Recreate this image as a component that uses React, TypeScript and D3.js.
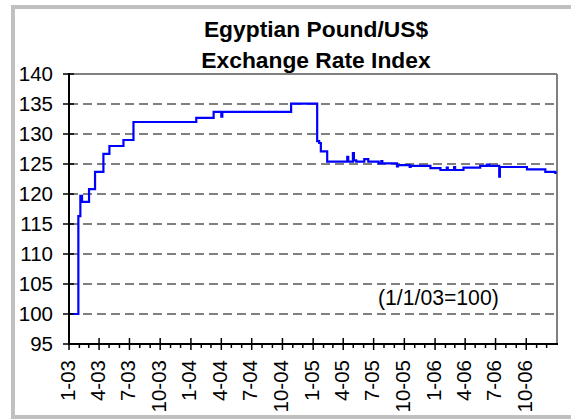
import React from "react";
import * as d3 from "d3";

const titleLines = ["Egyptian Pound/US$", "Exchange Rate Index"];
const note = "(1/1/03=100)";

const dates = [
  "2003-01-01", "2003-01-29", "2003-02-04", "2003-02-09", "2003-03-02", "2003-03-20",
  "2003-04-14", "2003-05-02", "2003-06-13", "2003-07-13", "2004-01-17", "2004-03-09",
  "2004-04-01", "2004-04-04", "2004-10-27", "2005-01-13", "2005-01-19", "2005-01-24",
  "2005-02-12", "2005-04-13", "2005-04-16", "2005-04-30", "2005-05-03", "2005-05-10",
  "2005-06-03", "2005-06-15", "2005-07-16", "2005-07-24", "2005-07-27", "2005-09-09",
  "2005-09-12", "2005-10-17", "2005-10-20", "2005-12-18", "2006-01-17", "2006-02-05",
  "2006-02-08", "2006-02-27", "2006-03-02", "2006-03-27", "2006-05-16", "2006-06-05",
  "2006-06-12", "2006-07-12", "2006-07-14", "2006-10-03", "2006-11-27", "2006-12-27",
  "2006-12-31",
];
const values = [
  100, 116.3, 119.7, 118.7, 120.8, 123.7,
  126.7, 128.0, 129.0, 132.0, 132.7, 133.7,
  132.9, 133.7, 135.05, 128.8, 128.5, 127.1,
  125.4, 126.2, 125.4, 126.8, 125.6, 125.4,
  125.8, 125.4, 125.1, 125.5, 125.1, 124.6,
  124.8, 124.5, 124.7, 124.3, 124.0, 124.4,
  124.0, 124.5, 124.0, 124.4, 124.7, 124.9,
  124.7, 122.9, 124.5, 124.1, 123.7, 123.5,
  123.5,
];

const yTicks = [95, 100, 105, 110, 115, 120, 125, 130, 135, 140];
const xDomain = ["2003-01-01", "2007-01-01"];

const W = 571;
const H = 420;
const left = 69;
const right = 557;
const top = 74;
const bottom = 344;
const FONT = "'Liberation Sans', Arial, Helvetica, sans-serif";

export default function App() {
  const parse = d3.utcParse("%Y-%m-%d");
  const x = d3
    .scaleUtc()
    .domain(xDomain.map((d) => parse(d) as Date))
    .range([left, right]);
  const y = d3.scaleLinear().domain([95, 140]).range([bottom, top]);

  const data = dates.map((d, i) => ({ date: parse(d) as Date, v: values[i] }));
  const line = d3
    .line<{ date: Date; v: number }>()
    .x((d) => x(d.date))
    .y((d) => y(d.v))
    .curve(d3.curveStepAfter);

  const months = d3.utcMonth.range(x.domain()[0], x.domain()[1]);
  const fmt = (d: Date) => `${d.getUTCMonth() + 1}-${d3.utcFormat("%y")(d)}`;

  return (
    <svg
      width={W}
      height={H}
      style={{ position: "absolute", left: 0, top: 0, display: "block", fontFamily: FONT }}
    >
      <rect x={0} y={0} width={W} height={H} fill="#fff" />
      <rect x={13} y={7} width={600} height={410} fill="#fff" stroke="#c0c0c0" strokeWidth={4} />

      {titleLines.map((t, i) => (
        <text
          key={t}
          x={(left + right) / 2 + 3}
          y={37 + i * 31}
          textAnchor="middle"
          fontSize={22.8}
          fontWeight="bold"
          fill="#000"
        >
          {t}
        </text>
      ))}

      {/* gridlines */}
      {yTicks
        .filter((t) => t > 95 && t < 140)
        .map((t) => (
          <line
            key={"g" + t}
            x1={left}
            x2={right}
            y1={y(t)}
            y2={y(t)}
            stroke="#808080"
            strokeWidth={2}
            strokeDasharray="9,5"
          />
        ))}

      {/* plot border top/right */}
      <line x1={left} x2={right} y1={top} y2={top} stroke="#808080" strokeWidth={2} />
      <line x1={right} x2={right} y1={top} y2={bottom} stroke="#808080" strokeWidth={2} />

      {/* data line */}
      <path d={line(data) || ""} fill="none" stroke="#0000ff" strokeWidth={2.2} />

      {/* axes */}
      <line x1={left} x2={left} y1={top - 1} y2={bottom + 1} stroke="#000" strokeWidth={2} />
      <line x1={left - 1} x2={right + 1} y1={bottom} y2={bottom} stroke="#000" strokeWidth={2} />

      {yTicks.map((t) => (
        <g key={"y" + t}>
          <line x1={left - 6} x2={left + 5} y1={y(t)} y2={y(t)} stroke="#000" strokeWidth={1.5} />
          <text x={53} y={y(t)} dy="0.36em" textAnchor="end" fontSize={20.5} fill="#000">
            {t}
          </text>
        </g>
      ))}

      {months.map((m, i) => {
        const major = m.getUTCMonth() % 3 === 0;
        const xx = x(m);
        return (
          <g key={"x" + i}>
            <line
              x1={xx}
              x2={xx}
              y1={major ? bottom - 6 : bottom - 1}
              y2={major ? bottom + 6 : bottom + 4}
              stroke="#000"
              strokeWidth={1.5}
            />
            {major && (
              <text
                transform={`translate(${xx},360) rotate(-90)`}
                dy="0.27em"
                textAnchor="end"
                fontSize={20.5}
                fill="#000"
              >
                {fmt(m)}
              </text>
            )}
          </g>
        );
      })}

      <text x={378} y={305} fontSize={21.2} fill="#000">
        {note}
      </text>
    </svg>
  );
}
